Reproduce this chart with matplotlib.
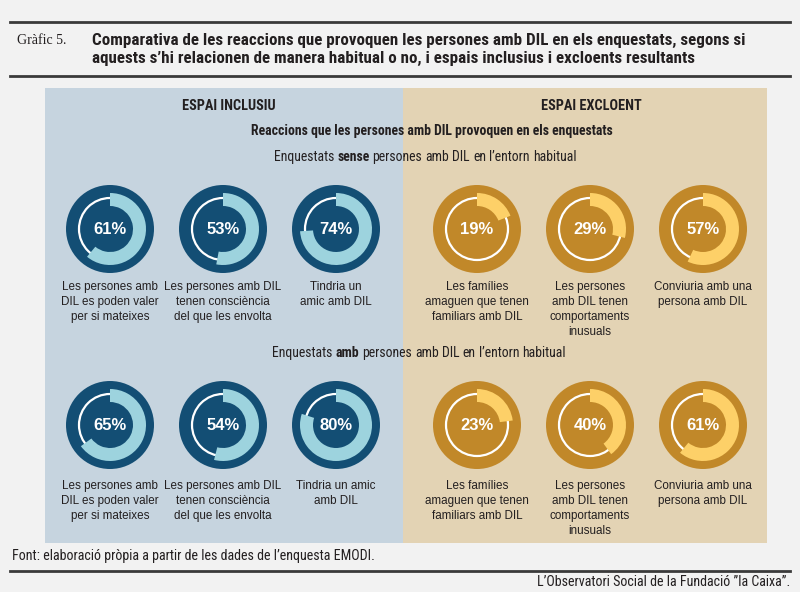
import matplotlib
matplotlib.use("Agg")
import matplotlib.pyplot as plt
from matplotlib.patches import Wedge, Circle, Rectangle

# data
row_titles = ["sense", "amb"]
inclusive_labels = [
    ["Les persones amb\nDIL es poden valer\nper si mateixes",
     "Les persones amb DIL\ntenen consciència\ndel que les envolta",
     "Tindria un\namic amb DIL"],
    ["Les persones amb\nDIL es poden valer\nper si mateixes",
     "Les persones amb DIL\ntenen consciència\ndel que les envolta",
     "Tindria un amic\namb DIL"],
]
inclusive_values = [[61, 53, 74], [65, 54, 80]]
exclusive_labels = [
    ["Les famílies\namaguen que tenen\nfamiliars amb DIL",
     "Les persones\namb DIL tenen\ncomportaments\ninusuals",
     "Conviuria amb una\npersona amb DIL"],
    ["Les famílies\namaguen que tenen\nfamiliars amb DIL",
     "Les persones\namb DIL tenen\ncomportaments\ninusuals",
     "Conviuria amb una\npersona amb DIL"],
]
exclusive_values = [[19, 29, 57], [23, 40, 61]]

W, H = 800, 592
BG = "#f2f2f2"
NARROW = ["Roboto Condensed", "Archivo Narrow", "Liberation Sans Narrow", "DejaVu Sans"]
SANS = ["Liberation Sans", "DejaVu Sans"]
TXT = "#231f20"

fig = plt.figure(figsize=(W / 100, H / 100), dpi=100, facecolor=BG)
ax = fig.add_axes([0, 0, 1, 1])
ax.set_xlim(0, W)
ax.set_ylim(H, 0)
ax.axis("off")
renderer = fig.canvas.get_renderer()


def text_width(s, **kw):
    t = ax.text(0, 0, s, **kw)
    w = t.get_window_extent(renderer).width
    t.remove()
    return w


def fit_size(s, target, **kw):
    # font size that makes s about target pixels wide
    return 10 * target / text_width(s, fontsize=10, **kw)


def mixed_line(xc, y, parts, size):
    # parts: list of (word, weight); draws a centred line with mixed weights
    widths = [text_width(s, family=NARROW, fontsize=size, fontweight=wt) for s, wt in parts]
    space = text_width("a a", family=NARROW, fontsize=size) - text_width("aa", family=NARROW, fontsize=size)
    total = sum(widths) + space * (len(parts) - 1)
    x = xc - total / 2
    for (s, wt), wd in zip(parts, widths):
        ax.text(x, y, s, family=NARROW, fontsize=size, fontweight=wt,
                ha="left", va="center", color=TXT)
        x += wd + space


def donut(xc, yc, pct, dark, light):
    ax.add_patch(Circle((xc, yc), 44, color=dark, lw=0))
    ax.add_patch(Circle((xc, yc), 31, fill=False, ec="white", lw=1.6))
    ax.add_patch(Wedge((xc, yc), 36, 270, 270 + 360 * pct / 100, width=13,
                       color=light, lw=0))
    ax.text(xc, yc, f"{pct}%", ha="center", va="center", color="white",
            fontsize=12, fontweight="bold", family=SANS)


# header rules and title
for yy in (22, 76, 571):
    ax.plot([10, 790], [yy, yy], color="#3a3a3a", lw=2)
ax.text(17, 41, "Gràfic 5.", family=["Liberation Serif", "DejaVu Serif"],
        fontsize=10, va="center", ha="left", color=TXT)
title1 = "Comparativa de les reaccions que provoquen les persones amb DIL en els enquestats, segons si"
title2 = "aquests s’hi relacionen de manera habitual o no, i espais inclusius i excloents resultants"
tsize = fit_size(title1, 655, family=NARROW, fontweight="bold")
ax.text(92, 40, title1, family=NARROW, fontsize=tsize, fontweight="bold",
        va="center", ha="left", color=TXT)
ax.text(92, 58, title2, family=NARROW, fontsize=tsize, fontweight="bold",
        va="center", ha="left", color=TXT)

# panels
ax.add_patch(Rectangle((45, 88), 358, 455, color="#c6d4df", lw=0))
ax.add_patch(Rectangle((403, 88), 364, 455, color="#e3d3b4", lw=0))
hsize = fit_size("ESPAI INCLUSIU", 93, family=NARROW, fontweight="bold")
ax.text(229, 106, "ESPAI INCLUSIU", family=NARROW, fontsize=hsize, fontweight="bold",
        ha="center", va="center", color=TXT)
ax.text(591, 106, "ESPAI EXCLOENT", family=NARROW, fontsize=hsize, fontweight="bold",
        ha="center", va="center", color=TXT)
sub = "Reaccions que les persones amb DIL provoquen en els enquestats"
ssize = fit_size(sub, 364, family=NARROW, fontweight="bold")
ax.text(432, 131, sub, family=NARROW, fontsize=ssize, fontweight="bold",
        ha="center", va="center", color=TXT)

row_y = [157, 353]
row_x = [425, 419]
donut_y = [229, 425]
label_top = [281, 480]
left_x = [110, 223, 336]
right_x = [477, 590, 703]

for r in range(2):
    mixed_line(row_x[r], row_y[r], [("Enquestats", "normal"), (row_titles[r], "bold"),
                                    ("persones", "normal"), ("amb", "normal"), ("DIL", "normal"),
                                    ("en", "normal"), ("l’entorn", "normal"), ("habitual", "normal")], ssize)
    for c in range(3):
        donut(left_x[c], donut_y[r], inclusive_values[r][c], "#134e74", "#9dd3de")
        ax.text(left_x[c], label_top[r], inclusive_labels[r][c], ha="center", va="top",
                family=SANS, fontsize=8.4, linespacing=1.33, color=TXT)
        donut(right_x[c], donut_y[r], exclusive_values[r][c], "#c18829", "#fdd068")
        ax.text(right_x[c], label_top[r], exclusive_labels[r][c], ha="center", va="top",
                family=SANS, fontsize=8.4, linespacing=1.33, color=TXT)

# footer
foot = "Font: elaboració pròpia a partir de les dades de l’enquesta EMODI."
fsize = fit_size(foot, 363, family=NARROW)
ax.text(12, 556, foot, family=NARROW, fontsize=fsize, ha="left", va="center", color=TXT)
ax.text(790, 582, "L’Observatori Social de la Fundació ”la Caixa”.",
        family=NARROW, fontsize=fsize, ha="right", va="center", color=TXT)

fig.savefig("out.png", dpi=100, facecolor=BG)
